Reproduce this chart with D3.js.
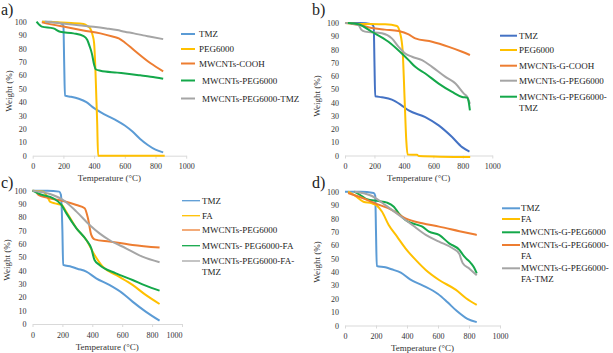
<!DOCTYPE html>
<html><head><meta charset="utf-8">
<script src="https://cdn.jsdelivr.net/npm/d3@7"></script>
<style>
html,body{margin:0;padding:0;background:#fff;}
svg{display:block;font-family:"Liberation Serif","Times New Roman",serif;}
</style></head>
<body>
<svg id="chart" width="613" height="353"></svg>
<script>
// ---- tick labels ----
const xTicks = [0, 200, 400, 600, 800, 1000];
const yTicks = [0, 10, 20, 30, 40, 50, 60, 70, 80, 90, 100];

// ---- panel a ----
const aNames = ["TMZ", "PEG6000", "MWCNTs-COOH", "MWCNTs-PEG6000", "MWCNTs-PEG6000-TMZ"];
const a_TMZ = [[60,100],[120,100],[150,99.5],[190,98.5],[200,97],[205,70],[210,44.8],[250,44],[300,42.5],[350,40],[400,35.5],[450,32],[500,29],[550,26],[600,22.5],[650,18],[700,12.5],[750,8],[800,4.5],[850,2.5]];
const a_PEG = [[60,100],[150,99.5],[250,99],[332,98.3],[360,96.5],[375,95],[390,90],[400,84],[408,66],[415,42],[420,25],[426,0],[500,0],[860,0]];
const a_COOH = [[60,99.5],[120,98],[223,95.8],[330,93.5],[441,91.3],[520,89],[561,87.6],[600,84.5],[659,78.9],[768,69],[850,63]];
const a_MPEG = [[25,100],[40,98],[59,96.3],[135,95],[179,92.5],[266,91.3],[332,89.3],[355,86.5],[370,82],[386,76],[400,68],[410,64.5],[441,63.4],[550,62],[616,61.2],[700,60],[768,59],[850,57.5]];
const a_MPEGTMZ = [[80,100],[150,99.2],[223,98.3],[300,97.3],[397,96.2],[480,95],[550,93.8],[600,92.5],[659,91.3],[720,89.8],[768,88.8],[850,87]];

// ---- panel b ----
const bNames = ["TMZ", "PEG6000", "MWCNTs-G-COOH", "MWCNTs-G-PEG6000", "MWCNTs-G-PEG6000-|TMZ"];
const b_TMZ = [[0,100],[100,100],[182,99],[195,97],[200,70],[205,44.7],[250,44],[318,42.2],[375,38.6],[432,34],[545,29],[636,22.7],[727,13.9],[795,6.3],[845,3]];
const b_PEG = [[0,100],[68,99.5],[273,99],[352,97.7],[375,92],[391,79.5],[405,41.7],[416,11.4],[425,0.8],[489,0.5],[500,-0.3],[850,-1.2]];
const b_COOH = [[40,99.5],[100,98.5],[182,96.2],[270,95],[364,93.9],[432,91.4],[477,88.4],[591,85.9],[705,82],[795,78.3],[848,75.8]];
const b_GPEG = [[0,100],[91,98.5],[110,95],[136,93.5],[250,92.2],[318,88.4],[364,82],[409,77],[455,74.5],[523,72],[591,66.9],[682,59.3],[750,54.3],[807,46.7],[830,44.2],[848,39]];
const b_GPEGTMZ = [[20,100],[91,99],[182,93.4],[295,85.9],[386,77],[432,72],[477,66.9],[545,61.9],[636,54.3],[727,48],[795,44.2],[830,43.7],[838,41.5],[848,34]];

// ---- panel c ----
const cNames = ["TMZ", "FA", "MWCNTs-PEG6000", "MWCNTs- PEG6000-FA", "MWCNTs-PEG6000-FA-|TMZ"];
const c_TMZ = [[0,100],[100,100],[178,99.3],[190,97],[200,70],[205,44.3],[260,43],[300,41.5],[360,39.3],[426,34.3],[514,29.3],[603,23],[669,16.8],[757,9.3],[850,2.5]];
const c_FA = [[0,100],[73,99.3],[95,96],[106,94],[117,91.8],[150,90.5],[194,89.3],[227,84],[294,71.8],[360,63],[415,51.8],[470,43],[558,36.8],[669,29.3],[757,21.8],[850,15]];
const c_MPEG = [[20,100],[40,96.8],[95,94.8],[205,92.3],[294,89.3],[349,86.8],[371,79.3],[393,66.8],[415,63.5],[514,61.8],[669,59.3],[850,57.3]];
const c_MPEGFA = [[0,100],[51,97.3],[139,94.3],[194,89.3],[227,83],[294,71.8],[360,63],[393,56.8],[415,48],[448,44.3],[558,38],[669,33],[757,28.8],[850,25]];
const c_MPEGFATMZ = [[0,100],[117,97.5],[205,93],[294,84.3],[382,74.3],[448,68],[514,63],[625,56.8],[735,50.5],[850,46.3]];

// ---- panel d ----
const dNames = ["TMZ", "FA", "MWCNTs-G-PEG6000", "MWCNTs-G-PEG6000-|FA", "MWCNTs-G-PEG6000-|FA-TMZ"];
const d_TMZ = [[0,100],[100,100],[185,99],[195,97],[200,70],[205,44.5],[260,43.5],[300,42],[360,39.5],[420,34.5],[500,30],[600,23.5],[660,17.5],[720,11],[790,5],[850,2.5]];
const d_FA = [[20,100],[65,97],[119,92.5],[174,91.3],[206,89.6],[239,85],[282,75.1],[336,66.4],[390,57.7],[456,49],[521,41.5],[607,34],[716,26.6],[781,20.4],[850,15.4]];
const d_GPEG = [[60,100],[108,96.8],[141,94.3],[217,93],[271,91.8],[315,88.8],[347,83.8],[390,78.9],[456,75.6],[499,73.9],[542,70.1],[607,67.7],[672,61.4],[738,56.5],[760,53],[781,50.2],[813,46.5],[835,42.8],[850,39]];
const d_GPEGFA = [[20,99],[108,95.5],[195,91.3],[304,86.3],[390,80.1],[499,76.4],[607,73.9],[738,70.5],[850,67.7]];
const d_GPEGFATMZ = [[60,100],[174,96.8],[260,90],[347,82.6],[434,75.1],[521,67.7],[607,62.7],[694,57.7],[738,53.5],[748,50],[760,46.5],[803,42.5],[850,37.5]];

const BLUE = "#5b9bd5", DBLUE = "#4472c4", YEL = "#ffc000", ORA = "#ed7d31", GRN = "#14a84a", GRY = "#a5a5a5";
const SERIF = "'Liberation Serif', 'Times New Roman', serif";

const panels = [
  { letter: "a)", lx: 1, ly: 15, x0: 32.7, x1: 186.2, y100: 21.7, y0: 155.7, ylabX: 12, ylabY: 91,
    series: [a_TMZ, a_PEG, a_COOH, a_MPEG, a_MPEGTMZ], names: aNames, colors: [BLUE, YEL, ORA, GRN, GRY],
    leg: { lx0: 181, lx1: 195, tx: [199, 199, 199, 202, 202], ys: [34, 49, 63.5, 80.5, 98.5], w: 2 } },
  { letter: "b)", lx: 312, ly: 15, x0: 345, x1: 492.3, y100: 23, y0: 155.5, ylabX: 320, ylabY: 96,
    series: [b_TMZ, b_PEG, b_COOH, b_GPEG, b_GPEGTMZ], names: bNames, colors: [DBLUE, YEL, ORA, GRY, GRN],
    leg: { lx0: 500, lx1: 517, tx: [519, 519, 519, 519, 519], ys: [35.7, 50, 65.7, 80.7, 96.7], w: 2 } },
  { letter: "c)", lx: 1, ly: 188, x0: 32.5, x1: 182, y100: 190.7, y0: 324, ylabX: 10, ylabY: 260, lastDx: -8,
    series: [c_TMZ, c_FA, c_MPEG, c_MPEGFA, c_MPEGFATMZ], names: cNames, colors: [BLUE, YEL, ORA, GRN, GRY],
    leg: { lx0: 182, lx1: 200, tx: [202, 202, 202, 202, 202], ys: [200.7, 215.7, 230, 245.7, 261], w: 1.3 } },
  { letter: "d)", lx: 312, ly: 188, x0: 345, x1: 500, y100: 191.7, y0: 325.5, ylabX: 320, ylabY: 262,
    series: [d_TMZ, d_FA, d_GPEG, d_GPEGFA, d_GPEGFATMZ], names: dNames, colors: [BLUE, YEL, GRN, ORA, GRY],
    leg: { lx0: 502, lx1: 520, tx: [521, 521, 521, 521, 521], ys: [208.3, 219, 232.3, 245, 268.3], w: 2 } }
];

const svg = d3.select("#chart");

panels.forEach(p => {
  const x = d3.scaleLinear().domain([0, 1000]).range([p.x0, p.x1]);
  const y = d3.scaleLinear().domain([0, 100]).range([p.y0, p.y100]);
  const g = svg.append("g");

  // x axis
  const xa = g.append("g").attr("transform", `translate(0,${p.y0})`)
    .call(d3.axisBottom(x).tickValues(xTicks).tickFormat(d3.format("d")).tickSize(3).tickSizeOuter(0).tickPadding(5));
  xa.attr("font-family", SERIF);
  xa.select(".domain").attr("stroke", "#d9d9d9");
  xa.selectAll(".tick line").attr("stroke", "#d9d9d9");
  xa.selectAll("text").attr("font-size", 8).attr("fill", "#333");
  if (p.lastDx) xa.selectAll(".tick text").filter(d => d === 1000).attr("dx", p.lastDx);

  // y axis
  const ya = g.append("g").attr("transform", `translate(${p.x0},0)`)
    .call(d3.axisLeft(y).tickValues(yTicks).tickFormat(d3.format("d")).tickSize(0).tickPadding(6));
  ya.attr("font-family", SERIF);
  ya.select(".domain").remove();
  ya.selectAll("text").attr("font-size", 8).attr("fill", "#333");

  // titles
  g.append("text").attr("x", (p.x0 + p.x1) / 2).attr("y", p.y0 + 25.5)
    .attr("text-anchor", "middle").attr("font-size", 9).attr("fill", "#333").text("Temperature (°C)");
  g.append("text").attr("transform", `translate(${p.ylabX},${p.ylabY}) rotate(-90)`)
    .attr("text-anchor", "middle").attr("font-size", 9).attr("fill", "#333").text("Weight (%)");
  g.append("text").attr("x", p.lx).attr("y", p.ly).attr("font-size", 16).attr("fill", "#222").text(p.letter);

  // lines
  const line = d3.line().x(d => x(d[0])).y(d => y(d[1])).curve(d3.curveMonotoneX);
  p.series.forEach((s, i) => {
    g.append("path").datum(s).attr("d", line).attr("fill", "none")
      .attr("stroke", p.colors[i]).attr("stroke-width", 2).attr("stroke-linejoin", "round");
  });

  // legend
  p.names.forEach((n, i) => {
    const yy = p.leg.ys[i];
    g.append("line").attr("x1", p.leg.lx0).attr("x2", p.leg.lx1).attr("y1", yy).attr("y2", yy)
      .attr("stroke", p.colors[i]).attr("stroke-width", p.leg.w);
    const parts = n.split("|");
    parts.forEach((t, k) => {
      g.append("text").attr("x", p.leg.tx[i]).attr("y", yy + 3 + k * 11)
        .attr("font-size", 9).attr("fill", "#222").text(t);
    });
  });
});
</script>
</body></html>
